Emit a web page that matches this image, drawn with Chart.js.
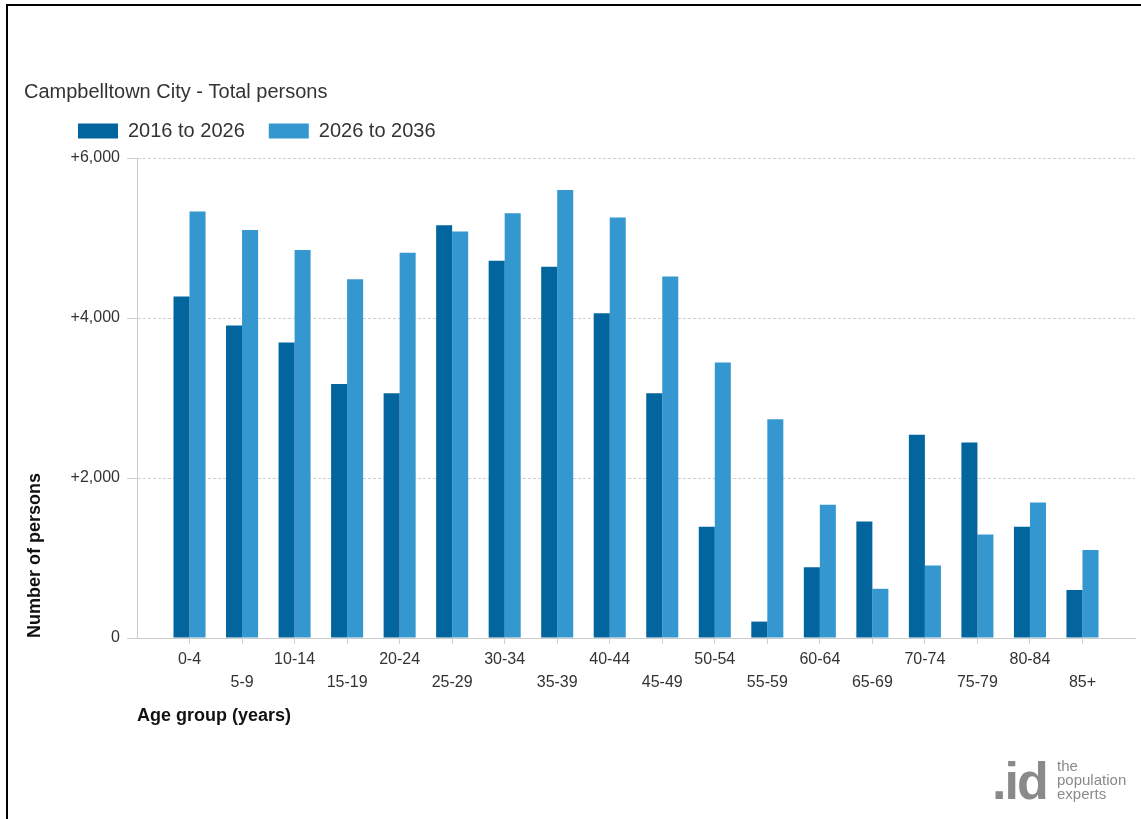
<!DOCTYPE html>
<html>
<head>
<meta charset="utf-8">
<title>Campbelltown City - Total persons</title>
<script src="https://cdn.jsdelivr.net/npm/chart.js@4/dist/chart.umd.min.js"></script>
<style>
    body { margin: 0; background: #fff; font-family: 'Liberation Sans', Arial, sans-serif; }
    #wrap { position: relative; width: 1141px; height: 819px; overflow: hidden; }
    #frame { position: absolute; left: 6px; top: 4px; right: -10px; bottom: -10px;
             border-top: 2px solid #000; border-left: 2px solid #000; pointer-events: none; }
    #logo { position: absolute; left: 992px; top: 752px; color: #8a8a8a; }
    #logo .id { position: absolute; left: 0; top: 0; font: bold 52px 'Liberation Sans', Arial, sans-serif;
                letter-spacing: -2px; line-height: 58px; }
    #logo .tag { position: absolute; left: 65px; top: 7px; font: 15px 'Liberation Sans', Arial, sans-serif;
                 line-height: 14px; }
</style>
</head>
<body>
<div id="wrap">
    <canvas id="age-chart"></canvas>
    <div id="frame"></div>
    <div id="logo"><span class="id">.id</span><span class="tag">the<br>population<br>experts</span></div>
</div>
<script>
    // 
    // Values (change in number of persons).
    // 
    var ageGroups = ['0-4', '5-9', '10-14', '15-19', '20-24', '25-29', '30-34', '35-39', '40-44',
        '45-49', '50-54', '55-59', '60-64', '65-69', '70-74', '75-79', '80-84', '85+'];
    var change2016to2026 = [4270, 3905, 3695, 3175, 3060, 5160, 4715, 4640, 4060,
        3060, 1390, 205, 885, 1455, 2540, 2445, 1390, 600];
    var change2026to2036 = [5330, 5100, 4850, 4485, 4815, 5080, 5310, 5600, 5255,
        4520, 3445, 2735, 1665, 615, 905, 1295, 1695, 1100];
    var yTicks = [0, 2000, 4000, 6000];

    var darkBlue = '#02659d', lightBlue = '#3597cf';

    Chart.defaults.font.family = "'Liberation Sans', Arial, sans-serif";
    Chart.defaults.color = '#333';

    function points(values) {
        return values.map(function (v, i) {
            return {x: i, y: v};
        });
    }

    // 
    // Move the legend so it sits under the title like in the original.
    // 
    var nudgeLegend = {
        id: 'nudgeLegend',
        afterLayout: function (chart) {
            chart.legend.left += 30;
            chart.legend.top -= 7;
        }
    };

    new Chart(document.getElementById('age-chart'), {
        type: 'bar',
        data: {
            datasets: [
                {
                    label: '2016 to 2026',
                    data: points(change2016to2026),
                    backgroundColor: darkBlue
                },
                {
                    label: '2026 to 2036',
                    data: points(change2026to2036),
                    backgroundColor: lightBlue
                }
            ]
        },
        options: {
            responsive: true,
            maintainAspectRatio: false,
            animation: false,
            categoryPercentage: 0.61,
            barPercentage: 1,
            layout: {
                padding: {top: 80, left: 24, right: 6, bottom: 92}
            },
            plugins: {
                tooltip: {enabled: false},
                title: {
                    display: true,
                    text: 'Campbelltown City - Total persons',
                    align: 'start',
                    color: '#333',
                    font: {size: 20, weight: 'normal', lineHeight: 1.2},
                    padding: 0
                },
                legend: {
                    display: true,
                    align: 'start',
                    labels: {
                        boxWidth: 40,
                        boxHeight: 15,
                        padding: 24,
                        color: '#333',
                        font: {size: 20}
                    }
                }
            },
            scales: {
                x: {
                    type: 'linear',
                    offset: false,
                    min: -1,
                    max: 18,
                    afterBuildTicks: function (scale) {
                        scale.ticks = ageGroups.map(function (g, i) {
                            return {value: i};
                        });
                    },
                    afterFit: function (scale) {
                        scale.height = 89;
                    },
                    ticks: {
                        autoSkip: false,
                        maxRotation: 0,
                        minRotation: 0,
                        padding: 4,
                        color: '#333',
                        font: {size: 16, lineHeight: 1.4375},
                        callback: function (value) {
                            var i = Math.round(value);
                            return i % 2 === 0 ? [ageGroups[i], ''] : ['', ageGroups[i]];
                        }
                    },
                    grid: {
                        display: true,
                        offset: false,
                        drawOnChartArea: false,
                        drawTicks: true,
                        tickLength: 6,
                        color: '#d0d0d0'
                    },
                    border: {display: true, color: '#cccccc', width: 1},
                    title: {
                        display: true,
                        text: 'Age group (years)',
                        align: 'start',
                        color: '#111',
                        font: {size: 18, weight: 'bold', lineHeight: 1.2},
                        padding: 0
                    }
                },
                y: {
                    min: 0,
                    max: 6000,
                    afterBuildTicks: function (scale) {
                        scale.ticks = yTicks.map(function (v) {
                            return {value: v};
                        });
                    },
                    afterFit: function (scale) {
                        scale.width = 113;
                    },
                    ticks: {
                        padding: 7,
                        color: '#333',
                        font: {size: 16},
                        callback: function (value) {
                            return value === 0 ? '0' : '+' + value.toLocaleString('en-US');
                        }
                    },
                    grid: {
                        color: '#cfcfcf',
                        tickLength: 10
                    },
                    border: {
                        display: true,
                        color: '#cccccc',
                        width: 1,
                        dash: function (ctx) {
                            return ctx.tick && ctx.tick.value === 0 ? [] : [3, 2];
                        }
                    },
                    title: {
                        display: true,
                        text: 'Number of persons',
                        align: 'start',
                        color: '#111',
                        font: {size: 18, weight: 'bold', lineHeight: 1.2},
                        padding: 0
                    }
                }
            }
        },
        plugins: [nudgeLegend]
    });
</script>
</body>
</html>
